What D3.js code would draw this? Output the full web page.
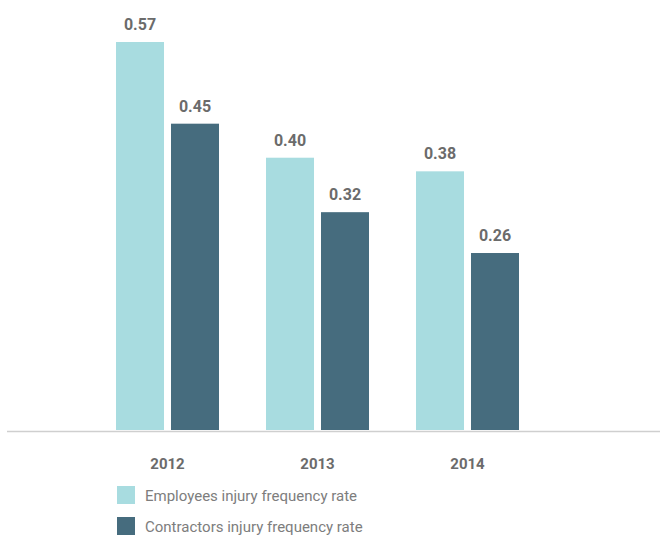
<!DOCTYPE html>
<html><head><meta charset="utf-8">
<script src="https://cdnjs.cloudflare.com/ajax/libs/d3/7.8.5/d3.min.js"></script>
<style>body{margin:0;background:#fff}svg{display:block}</style>
</head><body>
<svg id="c" width="660" height="536"></svg>
<script>
const years = ["2012", "2013", "2014"];
const seriesNames = ["Employees injury frequency rate", "Contractors injury frequency rate"];
const employees = [0.57, 0.40, 0.38];
const contractors = [0.45, 0.32, 0.26];
const colors = ["#a8dce0", "#466c7e"];

const svg = d3.select("#c");
const base = 430;
const x = d3.scaleBand().domain(years).range([92, 542]).padding(0);
const xi = d3.scaleBand().domain([0, 1]).range([24, 127]).paddingInner(0.127).paddingOuter(0);
const y = d3.scaleLinear().domain([0, 0.57]).range([base, 42]);

const data = years.map((yr, i) => ({ yr, vals: [employees[i], contractors[i]] }));

const g = svg.selectAll("g.grp").data(data).join("g").attr("class", "grp")
  .attr("transform", d => `translate(${x(d.yr)},0)`);

g.selectAll("rect").data(d => d.vals.map((v, k) => ({ v, k }))).join("rect")
  .attr("x", d => xi(d.k)).attr("width", xi.bandwidth())
  .attr("y", d => y(d.v)).attr("height", d => base - y(d.v))
  .attr("fill", d => colors[d.k]);

g.selectAll("text.val").data(d => d.vals.map((v, k) => ({ v, k }))).join("text")
  .attr("class", "val")
  .attr("x", d => xi(d.k) + xi.bandwidth() / 2)
  .attr("y", d => y(d.v) - 12)
  .attr("text-anchor", "middle")
  .attr("font-family", "Roboto, sans-serif").attr("font-weight", "bold")
  .attr("font-size", 16).attr("fill", "#6b6b6b")
  .text(d => d3.format(".2f")(d.v));

svg.append("line").attr("x1", 7).attr("x2", 660).attr("y1", base + 1.5).attr("y2", base + 1.5)
  .attr("stroke", "#cfcfcf").attr("stroke-width", 1.5);

svg.selectAll("text.yr").data(years).join("text").attr("class", "yr")
  .attr("x", d => x(d) + 75.5).attr("y", 469)
  .attr("text-anchor", "middle")
  .attr("font-family", "Roboto, sans-serif").attr("font-weight", "bold")
  .attr("font-size", 15).attr("fill", "#6b6b6b")
  .text(d => d);

const lg = svg.selectAll("g.lg").data(seriesNames).join("g").attr("class", "lg")
  .attr("transform", (d, i) => `translate(117,${486 + i * 31})`);
lg.append("rect").attr("width", 18).attr("height", 18).attr("fill", (d, i) => colors[i]);
lg.append("text").attr("x", 28).attr("y", 14.5)
  .attr("font-family", "Roboto, sans-serif").attr("font-size", 15).attr("fill", "#7d7d7d")
  .text(d => d);
</script>
</body></html>
